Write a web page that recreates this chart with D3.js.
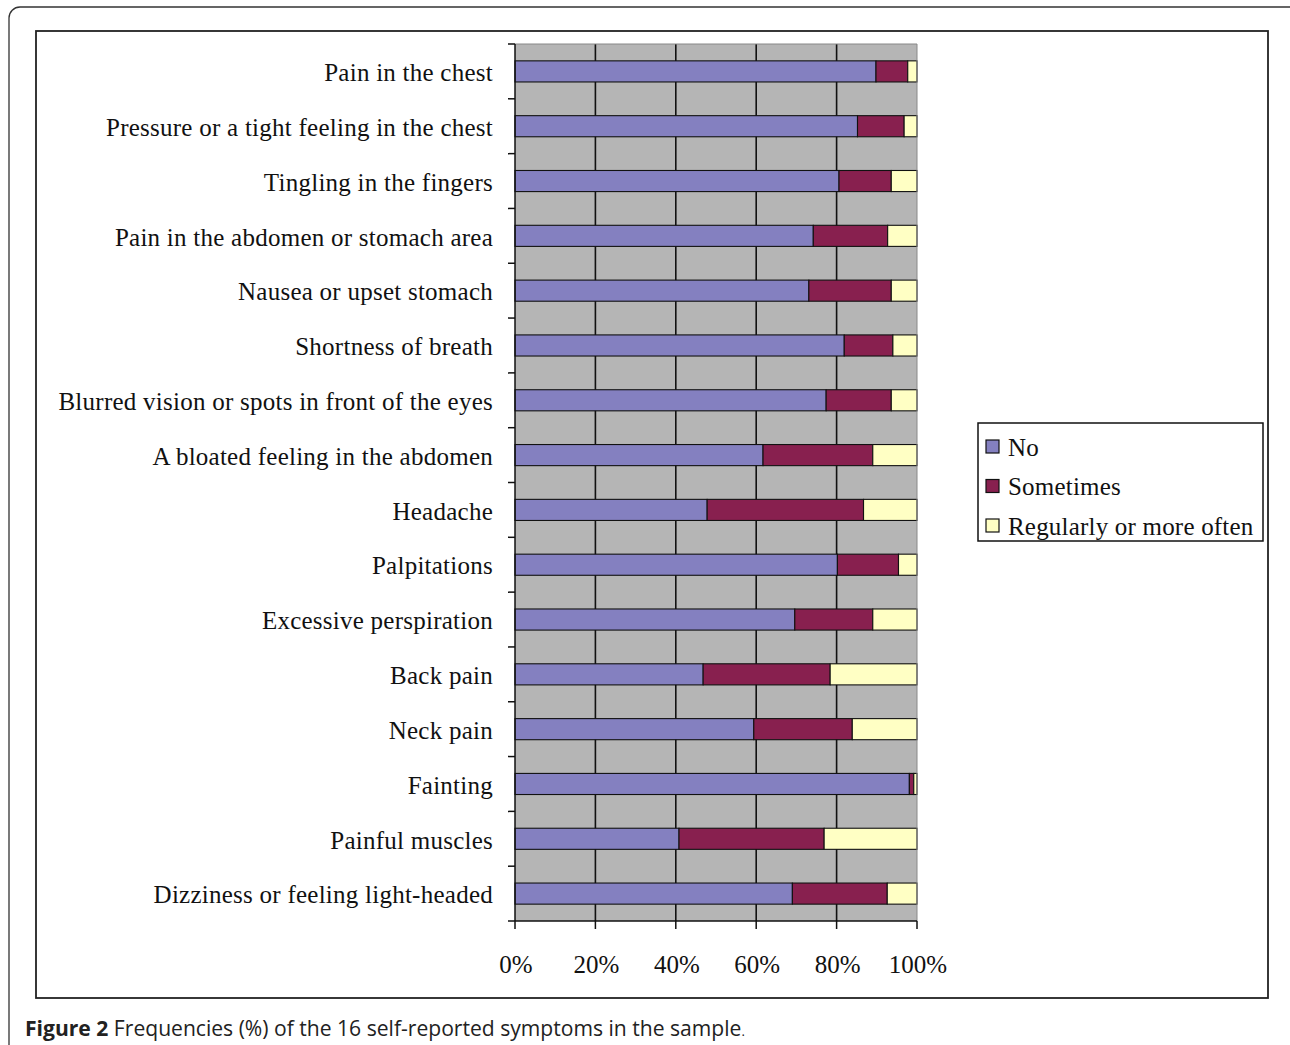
<!DOCTYPE html>
<html>
<head>
<meta charset="utf-8">
<script src="https://cdn.jsdelivr.net/npm/d3@7"></script>
<style>
  html, body { margin: 0; padding: 0; background: #fff; }
  svg { display: block; }
</style>
</head>
<body>
<div id="chart"></div>
<script>
// symptoms, top to bottom
const symptoms = [
  'Pain in the chest',
  'Pressure or a tight feeling in the chest',
  'Tingling in the fingers',
  'Pain in the abdomen or stomach area',
  'Nausea or upset stomach',
  'Shortness of breath',
  'Blurred vision or spots in front of the eyes',
  'A bloated feeling in the abdomen',
  'Headache',
  'Palpitations',
  'Excessive perspiration',
  'Back pain',
  'Neck pain',
  'Fainting',
  'Painful muscles',
  'Dizziness or feeling light-headed'
];

// percentages
const noValues        = [89.8, 85.2, 80.6, 74.2, 73.1, 81.9, 77.4, 61.7, 47.8, 80.2, 69.6, 46.8, 59.4, 98.1, 40.8, 69.0];
const sometimesValues = [ 7.9, 11.6, 13.0, 18.5, 20.5, 12.1, 16.2, 27.3, 38.9, 15.2, 19.4, 31.6, 24.5,  1.1, 36.1, 23.6];
const regularValues   = [ 2.3,  3.2,  6.4,  7.3,  6.4,  6.0,  6.4, 11.0, 13.3,  4.6, 11.0, 21.6, 16.1,  0.8, 23.1,  7.4];

const seriesNames = ['No', 'Sometimes', 'Regularly or more often'];
const xTicks = [0, 20, 40, 60, 80, 100];

const W = 1290, H = 1045;
const colors = ['#8480c0', '#88204f', '#ffffc4'];
const serif = '"Liberation Serif", "Times New Roman", serif';

const svg = d3.select('#chart').append('svg')
  .attr('width', W).attr('height', H);

// outer rounded frame (runs off page right/bottom)
svg.append('rect')
  .attr('x', 9).attr('y', 7).attr('width', 1300).attr('height', 1060)
  .attr('rx', 11).attr('fill', 'none')
  .attr('stroke', '#333').attr('stroke-width', 1.3);

// inner chart frame
svg.append('rect')
  .attr('x', 36).attr('y', 31).attr('width', 1232).attr('height', 967)
  .attr('fill', '#fff').attr('stroke', '#222').attr('stroke-width', 1.8);

const plot = { left: 515, right: 917, top: 44, bottom: 921 };

const x = d3.scaleLinear().domain([0, 100]).range([plot.left, plot.right]);
const y = d3.scaleBand().domain(symptoms).range([plot.top, plot.bottom]).paddingInner(0.615).paddingOuter(0.3075);
const yEdges = d3.scaleBand().domain(symptoms).range([plot.top, plot.bottom]).padding(0);

// grey plot background
svg.append('rect')
  .attr('x', plot.left).attr('y', plot.top)
  .attr('width', plot.right - plot.left).attr('height', plot.bottom - plot.top)
  .attr('fill', '#b5b5b5');

// vertical gridlines
svg.append('g').selectAll('line')
  .data(xTicks.slice(1, -1))
  .enter().append('line')
  .attr('x1', d => x(d)).attr('x2', d => x(d))
  .attr('y1', plot.top).attr('y2', plot.bottom)
  .attr('stroke', '#111').attr('stroke-width', 1.6);

// stacked bars
const rows = symptoms.map((s, i) => ({ s, vals: [noValues[i], sometimesValues[i], regularValues[i]] }));
const segs = [];
rows.forEach(r => {
  let acc = 0;
  r.vals.forEach((v, k) => {
    segs.push({ s: r.s, k, x0: acc, x1: acc + v });
    acc += v;
  });
});

svg.append('g').selectAll('rect')
  .data(segs)
  .enter().append('rect')
  .attr('x', d => x(d.x0))
  .attr('y', d => y(d.s))
  .attr('width', d => Math.max(0, x(d.x1) - x(d.x0)))
  .attr('height', y.bandwidth())
  .attr('fill', d => colors[d.k])
  .attr('stroke', '#111').attr('stroke-width', 1.1);

// plot top / right edges
svg.append('line')
  .attr('x1', plot.right).attr('x2', plot.right)
  .attr('y1', plot.top).attr('y2', plot.bottom)
  .attr('stroke', '#888').attr('stroke-width', 1);
svg.append('line')
  .attr('x1', plot.left).attr('x2', plot.right)
  .attr('y1', plot.top).attr('y2', plot.top)
  .attr('stroke', '#888').attr('stroke-width', 1);

// y axis
const yAxis = svg.append('g');
yAxis.append('line')
  .attr('x1', plot.left).attr('x2', plot.left)
  .attr('y1', plot.top).attr('y2', plot.bottom)
  .attr('stroke', '#111').attr('stroke-width', 1.5);
const boundaries = symptoms.map(s => yEdges(s)).concat([plot.bottom]);
yAxis.selectAll('line.tick')
  .data(boundaries)
  .enter().append('line').attr('class', 'tick')
  .attr('x1', plot.left - 7).attr('x2', plot.left)
  .attr('y1', d => d).attr('y2', d => d)
  .attr('stroke', '#111').attr('stroke-width', 1.5);
yAxis.selectAll('text')
  .data(symptoms)
  .enter().append('text')
  .attr('x', 493)
  .attr('y', d => y(d) + y.bandwidth() / 2 + 1)
  .attr('dy', '0.35em')
  .attr('text-anchor', 'end')
  .attr('font-family', serif).attr('font-size', 25)
  .attr('letter-spacing', 0.25)
  .attr('fill', '#111')
  .text(d => d);

// x axis
const xAxis = svg.append('g');
xAxis.append('line')
  .attr('x1', plot.left).attr('x2', plot.right)
  .attr('y1', plot.bottom).attr('y2', plot.bottom)
  .attr('stroke', '#111').attr('stroke-width', 1.5);
xAxis.selectAll('line.tick')
  .data(xTicks)
  .enter().append('line').attr('class', 'tick')
  .attr('x1', d => x(d)).attr('x2', d => x(d))
  .attr('y1', plot.bottom).attr('y2', plot.bottom + 8)
  .attr('stroke', '#111').attr('stroke-width', 1.5);
xAxis.selectAll('text')
  .data(xTicks)
  .enter().append('text')
  .attr('x', d => x(d) + 1)
  .attr('y', 973)
  .attr('text-anchor', 'middle')
  .attr('font-family', serif).attr('font-size', 25)
  .attr('fill', '#111')
  .text(d => d + '%');

// legend
const legend = svg.append('g');
legend.append('rect')
  .attr('x', 978).attr('y', 423).attr('width', 285).attr('height', 118)
  .attr('fill', '#fff').attr('stroke', '#111').attr('stroke-width', 1.5);
const li = legend.selectAll('g.item')
  .data(seriesNames)
  .enter().append('g').attr('class', 'item')
  .attr('transform', (d, i) => `translate(986, ${446 + i * 39.5})`);
li.append('rect')
  .attr('x', 0).attr('y', -6).attr('width', 13).attr('height', 13)
  .attr('fill', (d, i) => colors[i])
  .attr('stroke', '#111').attr('stroke-width', 1.2);
li.append('text')
  .attr('x', 22).attr('y', 1).attr('dy', '0.35em')
  .attr('font-family', serif).attr('font-size', 25)
  .attr('letter-spacing', 0.2)
  .attr('fill', '#111')
  .text(d => d);

// caption
const cap = svg.append('text')
  .attr('x', 25).attr('y', 1036)
  .attr('font-family', '"Open Sans", "Noto Sans", sans-serif')
  .attr('font-size', 21.1)
  .attr('fill', '#222');
cap.append('tspan').attr('font-weight', 'bold').text('Figure 2');
cap.append('tspan').text(' Frequencies (%) of the 16 self-reported symptoms in the sample');
cap.append('tspan').attr('font-size', 13).text('.');
</script>
</body>
</html>
